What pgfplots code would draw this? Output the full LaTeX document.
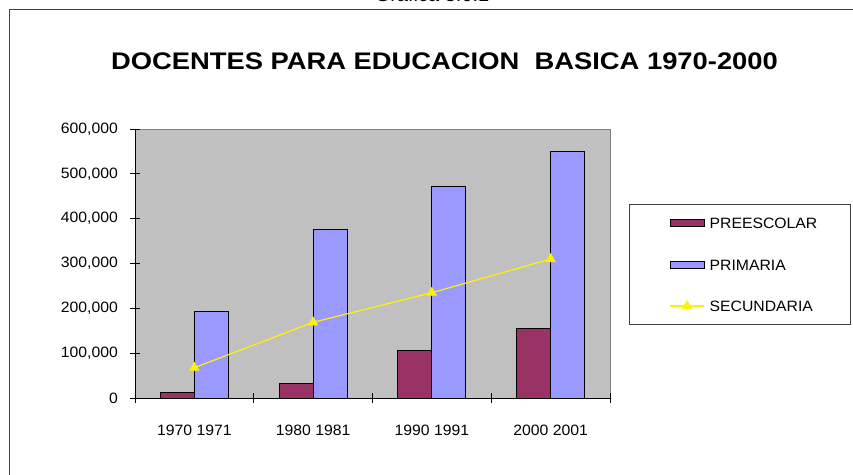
\documentclass[border=0pt]{standalone}
\usepackage{fontspec}
\setmainfont{Liberation Sans}
\newfontfamily\titlefont{Liberation Sans}[FakeStretch=1.14]
\newfontfamily\tickfont{Liberation Sans}[FakeStretch=1.05]
\usepackage{pgfplots}
\pgfplotsset{compat=1.18}
\definecolor{preesc}{HTML}{993366}
\definecolor{prim}{HTML}{9999FF}
\definecolor{plotbg}{HTML}{C0C0C0}
\definecolor{framec}{HTML}{404040}
\pgfplotsset{
  barleg/.style={legend image code/.code={\draw[##1] (0pt,-3.5pt) rectangle (34pt,3.5pt);}},
  lineleg/.style={legend image code/.code={\draw[mark repeat=2, mark phase=2, ##1]
      plot coordinates {(0pt,0pt) (17pt,0pt) (34pt,0pt)};}},
}

\begin{document}
\begin{tikzpicture}[x=1pt,y=1pt]
\useasboundingbox (0,0) rectangle (853,474);
\clip (0,0) rectangle (853,474);
\fill[white] (0,0) rectangle (853,474);
% cut-off sheet caption above the chart frame
\node[anchor=base, font=\fontsize{20}{24}\selectfont] at (432,472) {Grafica 3.6.1};
\draw[framec, line width=1.2pt] (9.3,-5) -- (9.3,464.7) -- (870,464.7);
\node[anchor=base, font=\titlefont\fontsize{24}{28}\selectfont\bfseries] at (444.5,404.7)
  {DOCENTES PARA EDUCACION\ \ BASICA 1970-2000};

\begin{axis}[
    at={(135pt,76pt)}, anchor=south west,
    scale only axis, width=475pt, height=269pt,
    ybar, bar width=34pt,
    xmin=-0.5, xmax=3.5, ymin=0, ymax=600000,
    xtick={0,1,2,3},
    xticklabels={1970 1971, 1980 1981, 1990 1991, 2000 2001},
    major x tick style={draw=none},
    minor xtick={-0.5,0.5,1.5,2.5,3.5},
    ytick={0,100000,...,600000},
    scaled y ticks=false,
    /pgf/number format/fixed,
    /pgf/number format/1000 sep={,},
    /pgf/number format/assume math mode=true,
    tick align=center, major tick length=10pt, minor tick length=10pt,
    axis x line*=bottom, axis y line*=left,
    axis line style={black, line width=1pt},
    tick style={black, line width=1pt},
    axis background/.style={fill=plotbg, draw=gray, line width=1pt},
    ticklabel style={font=\tickfont\fontsize{15}{18}\selectfont},
    yticklabel style={inner sep=0pt, xshift=-12pt},
    xticklabel style={inner sep=0pt, yshift=-22pt},
    legend style={at={(1.04,0.721)}, anchor=north west, draw=framec, line width=1pt,
        fill=white, inner xsep=40pt, inner ysep=13pt, row sep=30.5pt, column sep=5pt,
        font=\tickfont\fontsize{15}{18}\selectfont,
        nodes={inner sep=0pt, text height=11pt, text depth=0pt, text width=101pt, align=left}},
    legend cell align=left,
]
\addplot[fill=preesc, draw=black, line width=1pt, bar shift=-17pt, barleg]
    coordinates {(0,12000) (1,33000) (2,105000) (3,156000)};
\addplot[fill=prim, draw=black, line width=1pt, bar shift=17pt, barleg]
    coordinates {(0,194000) (1,375000) (2,471000) (3,549000)};
\addplot[sharp plot, yellow, line width=1.2pt, mark=triangle*, mark size=5.5pt,
    mark options={fill=yellow, draw=yellow, line width=0.5pt}, lineleg]
    coordinates {(0,67600) (1,168800) (2,234900) (3,310000)};
\legend{PREESCOLAR, PRIMARIA, SECUNDARIA}
\end{axis}
\end{tikzpicture}
\end{document}
